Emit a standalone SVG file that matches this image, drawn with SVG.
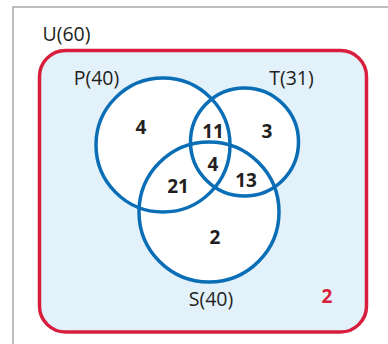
<svg xmlns="http://www.w3.org/2000/svg" width="388" height="344" viewBox="0 0 388 344">
<style>
.lbl{font-family:"Open Sans","Noto Sans",sans-serif;font-size:19.5px;fill:#231f20;text-anchor:middle}
.num{font-family:"Open Sans","Noto Sans",sans-serif;font-size:19px;font-weight:bold;fill:#231f20;text-anchor:middle}
.set{fill:none;stroke:#0a6eb7;stroke-width:3.5}
</style>
<rect x="13" y="7" width="390" height="350" fill="#fff" stroke="#a8a8a8" stroke-width="1.5"/>
<g id="universe">
<rect x="39.5" y="50.5" width="327" height="281.5" rx="26" fill="#e3f1fb" stroke="#d81e3c" stroke-width="3.5"/>
<text class="lbl" x="66.5" y="41">U(60)</text>
<text class="num" x="327" y="302.5" style="fill:#d81e3c">2</text>
</g>
<g id="fills">
<circle cx="163" cy="145" r="67" fill="#fff"/>
<circle cx="244.5" cy="142" r="54" fill="#fff"/>
<circle cx="209" cy="212" r="70" fill="#fff"/>
</g>
<g id="P"><circle class="set" cx="163" cy="145" r="67"/><text class="lbl" x="96.5" y="85">P(40)</text></g>
<g id="T"><circle class="set" cx="244.5" cy="142" r="54"/><text class="lbl" x="291.5" y="85">T(31)</text></g>
<g id="S"><circle class="set" cx="209" cy="212" r="70"/><text class="lbl" x="211" y="306">S(40)</text></g>
<g id="regions">
<text class="num" x="141" y="133.5">4</text>
<text class="num" x="213" y="137.5">11</text>
<text class="num" x="267" y="137.5">3</text>
<text class="num" x="213" y="170.5">4</text>
<text class="num" x="178" y="192.5">21</text>
<text class="num" x="246" y="186.5">13</text>
<text class="num" x="215" y="243.5">2</text>
</g>
</svg>
